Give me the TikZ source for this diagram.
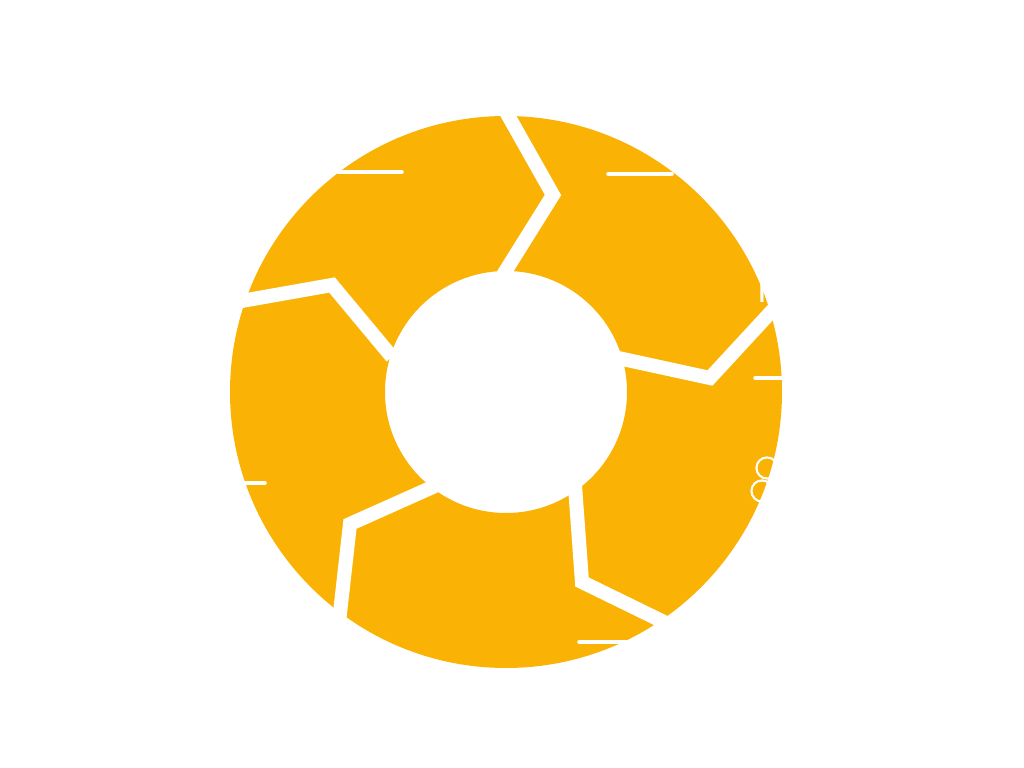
\documentclass[tikz,border=0pt]{standalone}
\usepackage{fontspec}
\setmainfont{Open Sans}
\usetikzlibrary{positioning,calc}
\definecolor{ringyellow}{HTML}{FAB305}
\begin{document}
\begin{tikzpicture}[x=0.01cm, y=-0.01cm,
		gap/.style = {draw = white, line width = 4pt, line join = miter},
		tick/.style = {draw = white, line width = 1pt, line cap = round},
		dot/.style = {circle, draw = white, line width = 0.6pt, inner sep = 0pt, minimum size = 6pt}
		]
\useasboundingbox (0,0) rectangle (1024,768);
\coordinate (centre) at (506,392);
% ring
\fill[ringyellow, even odd rule] (centre) circle[radius=276] (centre) circle[radius=121];
% dividers
\begin{scope}
\clip (centre) circle[radius=278];
\draw[gap] (503,275) -- (553,195) -- (505,110);
\draw[gap] (618,358) -- (710,378) -- (782,300);
\draw[gap] (575,486) -- (582,582) -- (670,625);
\draw[gap] (435,486) -- (350,524) -- (339,622);
\draw[gap] (392,357) -- (332,285) -- (236,302);
% labels, cut by the rim
\node[text = white, font = \fontsize{11}{11}\selectfont, anchor = west] (lbl1) at (745,288) {lin};
\node[dot] (dot1) at (767,468) {};
\node[dot] (dot2) at (762,491) {};
\end{scope}
% ticks
\draw[tick] (338,172) -- (402,172);
\draw[tick] (608,174) -- (672,174);
\draw[tick] (755,378) -- (782,378);
\draw[tick] (244,483) -- (265,483);
\draw[tick] (579,642) -- (630,642);
\end{tikzpicture}
\end{document}
